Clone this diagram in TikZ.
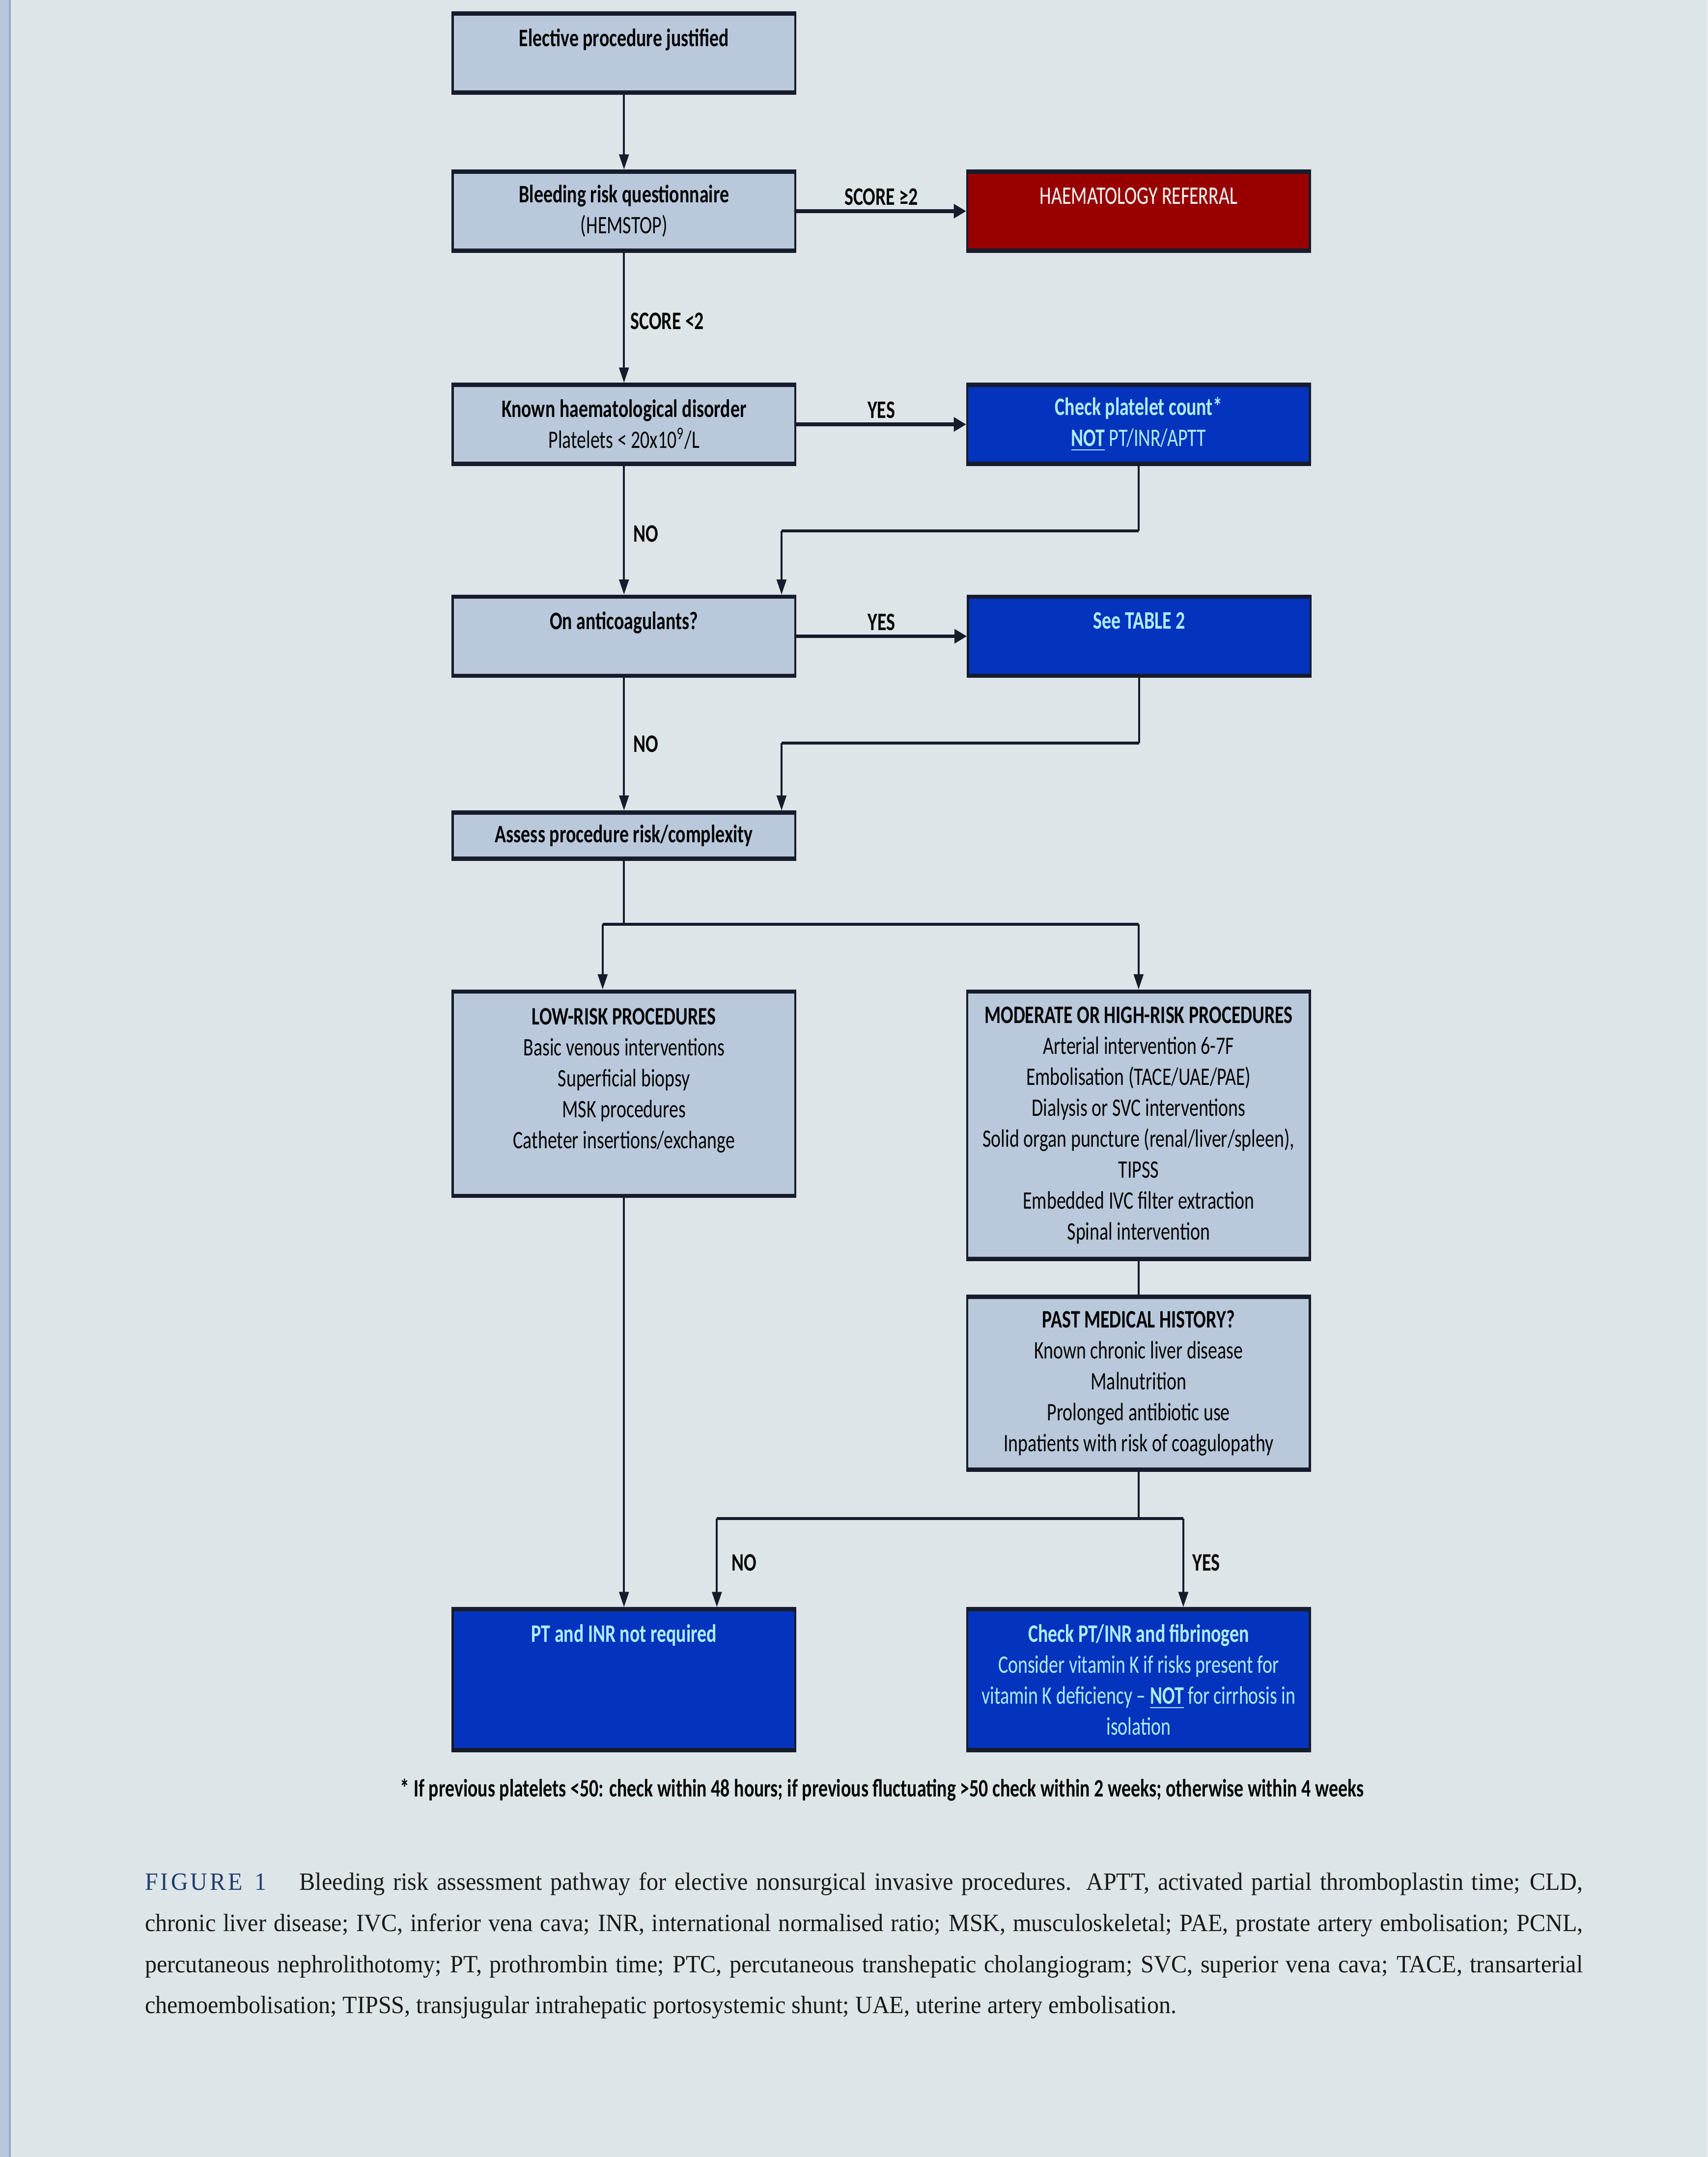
\documentclass[tikz,border=0pt]{standalone}
\usepackage{fontspec}
\setmainfont{Liberation Serif}[FakeStretch=0.95]
\setsansfont{Carlito}[FakeStretch=0.74]
\usetikzlibrary{arrows.meta}

\definecolor{pagebg}{RGB}{222,229,232}
\definecolor{stripbg}{RGB}{184,200,218}
\definecolor{stripedge}{RGB}{150,170,196}
\definecolor{greybox}{RGB}{185,201,219}
\definecolor{edgeline}{RGB}{22,28,44}
\definecolor{referralred}{RGB}{152,0,0}
\definecolor{actionblue}{RGB}{4,52,190}
\definecolor{actiontext}{RGB}{175,236,255}
\definecolor{figblue}{RGB}{30,62,112}

\tikzset{
  box/.style={draw=edgeline,line width=0.9pt,minimum width=49.8mm,inner sep=2pt,align=center,
    font=\sffamily\fontsize{10.4}{12.8}\selectfont,
    path picture={\draw[edgeline,line width=2.6pt]
      (path picture bounding box.north west) -- (path picture bounding box.north east)
      (path picture bounding box.south west) -- (path picture bounding box.south east);}},
  greystep/.style={box,fill=greybox,text=black},
  redstep/.style={box,fill=referralred,text=white},
  bluestep/.style={box,fill=actionblue,text=actiontext},
  vline/.style={line width=0.8pt,edgeline},
  hline/.style={line width=1.2pt,edgeline},
  varr/.style={vline,-{Triangle[length=2.2mm,width=1.4mm]}},
  harr/.style={line width=1.5pt,edgeline,-{Triangle[length=1.8mm,width=2.0mm]}},
  lbl/.style={font=\sffamily\bfseries\fontsize{10.4}{12.8}\selectfont,text=black,inner sep=0pt}
}

\begin{document}
\begin{tikzpicture}[x=0.2mm,y=-0.2mm]
% page
\fill[pagebg] (0,0) rectangle (1241,1568);
\useasboundingbox (0,0) rectangle (1241,1568);
\fill[stripbg] (0,0) rectangle (7.5,1568);
\draw[stripedge,line width=0.8pt] (7,0) -- (7,1568);

% left column
\node[greystep,minimum height=11.8mm] (elect) at (453.5,38.5) {\textbf{Elective procedure justified}\\~};
\node[greystep,minimum height=11.8mm] (hemstop) at (453.5,153.5) {\textbf{Bleeding risk questionnaire}\\(HEMSTOP)};
\node[greystep,minimum height=11.8mm] (haemdis) at (453.5,308.5) {\textbf{Known haematological disorder}\\Platelets < 20x10\textsuperscript{9}/L};
\node[greystep,minimum height=11.8mm] (anticoag) at (453.5,462.5) {\textbf{On anticoagulants?}\\~};
\node[greystep,minimum height=7mm] (assess) at (453.5,607.5) {\textbf{Assess procedure risk/complexity}};
\node[greystep,minimum height=30mm] (lowrisk) at (453.5,795) {\textbf{LOW-RISK PROCEDURES}\\Basic venous interventions\\Superficial biopsy\\MSK procedures\\Catheter insertions/exchange\\~};
\node[bluestep,minimum height=20.8mm] (notreq) at (453.5,1221) {\textbf{PT and INR not required}\\~\\~\\~};

% right column
\node[redstep,minimum height=11.8mm] (referral) at (827.5,153.5) {HAEMATOLOGY REFERRAL\\~};
\node[bluestep,minimum height=11.8mm] (platelet) at (827.5,308.5) {\textbf{Check platelet count*}\\\underline{\textbf{NOT}} PT/INR/APTT};
\node[bluestep,minimum height=11.8mm] (table2) at (828,462.5) {\textbf{See TABLE 2}\\~};
\node[greystep,minimum height=39.2mm] (highrisk) at (827.5,818) {\textbf{MODERATE OR HIGH-RISK PROCEDURES}\\Arterial intervention 6-7F\\Embolisation (TACE/UAE/PAE)\\Dialysis or SVC interventions\\Solid organ puncture (renal/liver/spleen),\\TIPSS\\Embedded IVC filter extraction\\Spinal intervention};
\node[greystep,minimum height=25.4mm] (pmh) at (827.5,1005.5) {\textbf{PAST MEDICAL HISTORY?}\\Known chronic liver disease\\Malnutrition\\Prolonged antibiotic use\\Inpatients with risk of coagulopathy};
\node[bluestep,minimum height=20.8mm] (checkpt) at (827.5,1221) {\textbf{Check PT/INR and fibrinogen}\\Consider vitamin K if risks present for\\vitamin K deficiency -- \underline{\textbf{NOT}} for cirrhosis in\\isolation};

% junction points
\coordinate (platbend) at (827.5,386);
\coordinate (anticin) at (568,386);
\coordinate (tablebend) at (828,540);
\coordinate (assessin) at (568,540);
\coordinate (split) at (453.5,672);
\coordinate (lowtap) at (438,672);
\coordinate (hightap) at (827.5,672);
\coordinate (pmhbend) at (827.5,1104);
\coordinate (notap) at (521,1104);
\coordinate (yestap) at (860,1104);

% main spine
\draw[varr] (elect) -- (hemstop);
\draw[harr] (hemstop) -- node[lbl,above=0.6mm]{SCORE ≥2} (referral);
\draw[varr] (hemstop) -- node[lbl,right=0.8mm,yshift=-0.5mm]{SCORE <2} (haemdis);
\draw[harr] (haemdis) -- node[lbl,above=0.6mm]{YES} (platelet);
\draw[varr] (haemdis) -- node[lbl,right=1.2mm,yshift=-0.5mm]{NO} (anticoag);
\draw[harr] (anticoag) -- node[lbl,above=0.6mm]{YES} (table2);
\draw[varr] (anticoag) -- node[lbl,right=1.2mm]{NO} (assess);

% return lines
\draw[vline] (platelet.south) -- (platbend);
\draw[hline] (platbend) -- (anticin);
\draw[varr] (anticin) -- (anticin |- anticoag.north);
\draw[vline] (table2.south) -- (tablebend);
\draw[hline] (tablebend) -- (assessin);
\draw[varr] (assessin) -- (assessin |- assess.north);

% risk split
\draw[vline] (assess.south) -- (split);
\draw[hline] (lowtap) -- (hightap);
\draw[varr] (lowtap) -- (lowtap |- lowrisk.north);
\draw[varr] (hightap) -- (highrisk.north);
\draw[varr] (lowrisk.south) -- (notreq.north);
\draw[vline] (highrisk.south) -- (pmh.north);

% history split
\draw[vline] (pmh.south) -- (pmhbend);
\draw[hline] (notap) -- (yestap);
\draw[varr] (notap) -- node[lbl,right=2mm]{NO} (notap |- notreq.north);
\draw[varr] (yestap) -- node[lbl,right=1.2mm]{YES} (yestap |- checkpt.north);

% footnote and caption
\node[lbl,font=\sffamily\bfseries\fontsize{10.4}{12}\selectfont] (footnote) at (641,1301) {* If previous platelets <50: check within 48 hours; if previous fluctuating >50 check within 2 weeks; otherwise within 4 weeks};
\node[anchor=north west,inner sep=0pt,align=left,text=black!90,font=\fontsize{10.3}{17}\selectfont] (caption) at (105,1361) {%
\makebox[209mm][s]{{\color{figblue}\addfontfeature{LetterSpace=10}FIGURE 1}\hspace{1em} Bleeding risk assessment pathway for elective nonsurgical invasive procedures. APTT, activated partial thromboplastin time; CLD,}\\
\makebox[209mm][s]{chronic liver disease; IVC, inferior vena cava; INR, international normalised ratio; MSK, musculoskeletal; PAE, prostate artery embolisation; PCNL,}\\
\makebox[209mm][s]{percutaneous nephrolithotomy; PT, prothrombin time; PTC, percutaneous transhepatic cholangiogram; SVC, superior vena cava; TACE, transarterial}\\
chemoembolisation; TIPSS, transjugular intrahepatic portosystemic shunt; UAE, uterine artery embolisation.};
\end{tikzpicture}
\end{document}
